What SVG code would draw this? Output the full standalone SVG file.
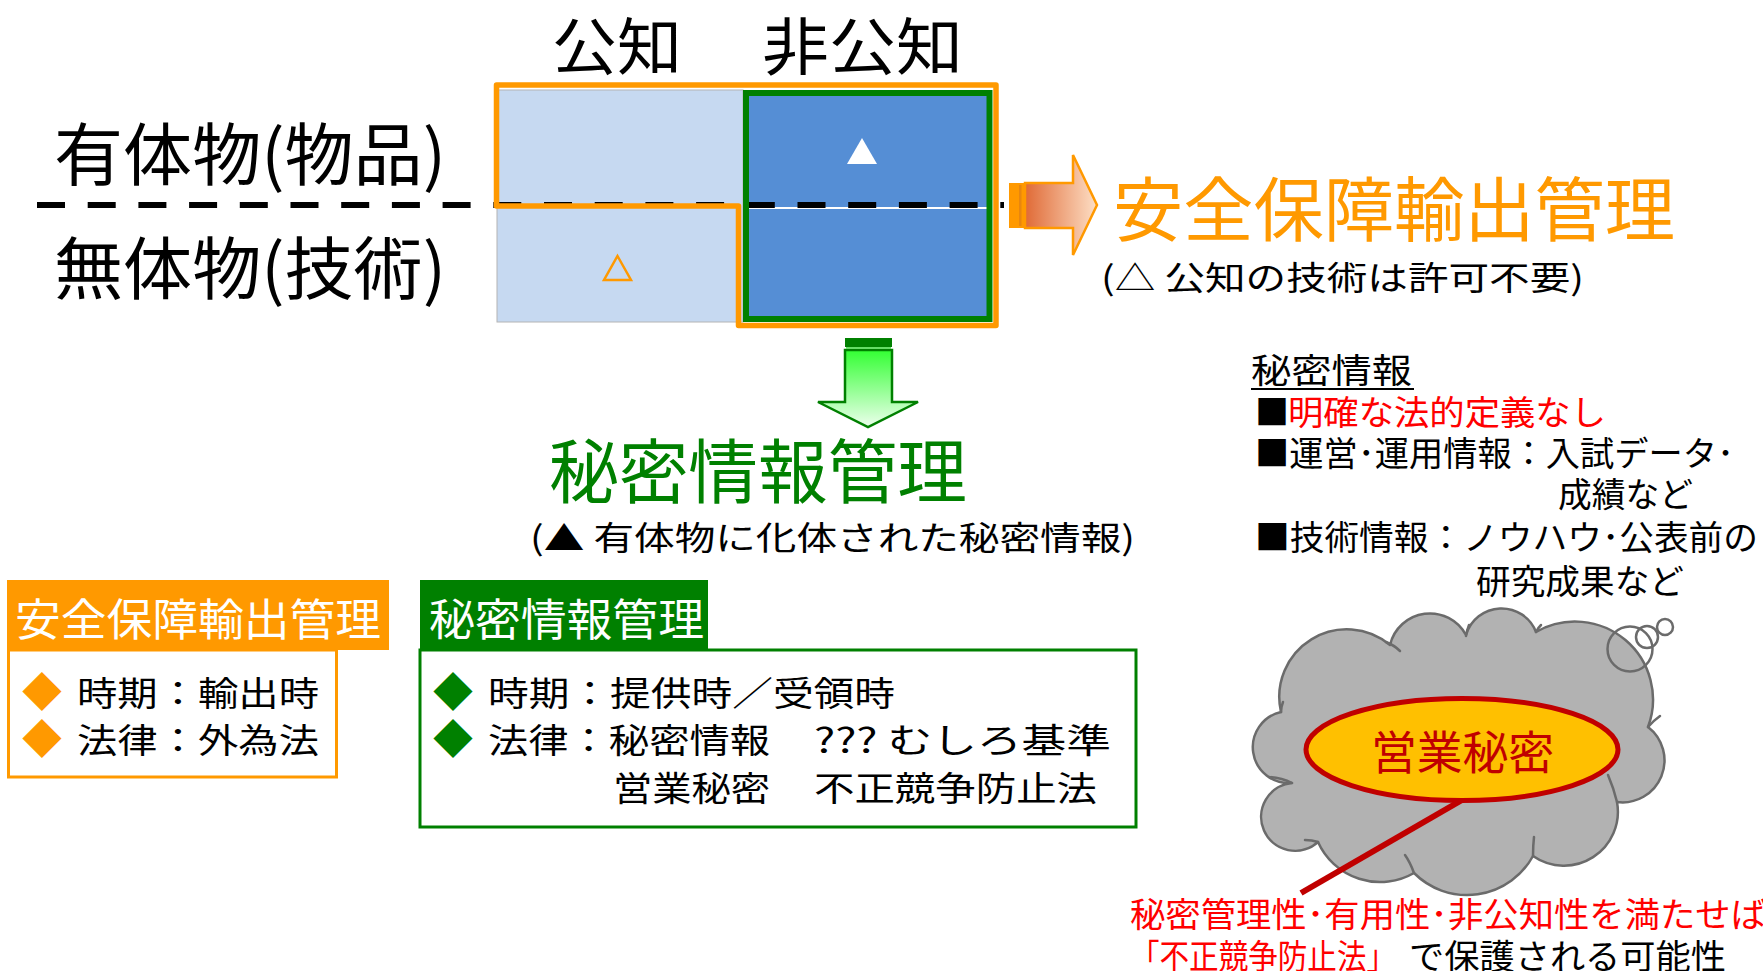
<svg xmlns="http://www.w3.org/2000/svg" width="1763" height="971" viewBox="0 0 1763 971">
  <defs>
    <linearGradient id="gradExport" gradientUnits="userSpaceOnUse" x1="1025" y1="0" x2="1095" y2="0">
      <stop offset="0" stop-color="#E06A36"/>
      <stop offset="1" stop-color="#FCDCC2"/>
    </linearGradient>
    <linearGradient id="gradSecret" gradientUnits="userSpaceOnUse" x1="0" y1="350" x2="0" y2="425">
      <stop offset="0" stop-color="#33FF33"/>
      <stop offset="1" stop-color="#E8FFE8"/>
    </linearGradient>
  </defs>
  <style>
    text { font-family: "Noto Sans CJK JP", "Noto Sans CJK SC", sans-serif; }
    .big { font-size: 70px; }
    .hdr { font-size: 62px; fill: #000; }
    .row { font-size: 68px; fill: #000; }
    .note { font-size: 33px; fill: #000; }
    .tab { font-size: 44px; fill: #fff; }
    .item { font-size: 34px; fill: #000; }
    .info { font-size: 34px; fill: #000; }
    .red { fill: #FF0000; }
    .orange { fill: #FF9900; }
    .green { fill: #008000; }
    .cloud { fill: #B2B2B2; stroke: #6B6B6B; stroke-width: 2.5; stroke-linejoin: round; }
    .hint { fill: none; stroke: #6B6B6B; stroke-width: 2.5; stroke-linecap: round; }
  </style>

  <rect width="1763" height="971" fill="#FFFFFF"/>

  <!-- column and row headings -->
  <g id="headings">
    <text class="hdr" x="552" y="70" textLength="130" lengthAdjust="spacingAndGlyphs">公知</text>
    <text class="hdr" x="762" y="70" textLength="201" lengthAdjust="spacingAndGlyphs">非公知</text>
    <text class="row" x="54" y="180" textLength="392" lengthAdjust="spacingAndGlyphs">有体物(物品)</text>
    <text class="row" x="54" y="294" textLength="392" lengthAdjust="spacingAndGlyphs">無体物(技術)</text>
  </g>

  <!-- 2x2 matrix: public / non-public vs tangible / intangible -->
  <g id="matrix">
    <rect x="497" y="90" width="246" height="232" fill="#C6D9F1" stroke="#B4B4B4" stroke-width="1"/>
    <rect x="745" y="91" width="242" height="229" fill="#558ED5"/>
    <line x1="745" y1="208" x2="987" y2="208" stroke="#FFFFFF" stroke-width="2"/>
    <line x1="37" y1="205" x2="1004" y2="205" stroke="#000" stroke-width="6" stroke-dasharray="28 22.7"/>
    <rect x="746" y="93" width="243.5" height="226" fill="none" stroke="#008000" stroke-width="6"/>
    <path d="M496.5 85 H996 V325.5 H738.5 V206 H496.5 Z" fill="none" stroke="#FF9900" stroke-width="5.5" stroke-linejoin="round"/>
    <polygon points="862,138 877,164 847,164" fill="#FFFFFF"/>
    <polygon points="617.5,256 631,280 604,280" fill="none" stroke="#FF9900" stroke-width="2.5" stroke-linejoin="miter"/>
  </g>

  <!-- destination labels -->
  <g id="export-control">
    <text class="big orange" x="1113" y="236" textLength="562" lengthAdjust="spacingAndGlyphs">安全保障輸出管理</text>
    <text class="note" x="1101" y="290" textLength="483" lengthAdjust="spacingAndGlyphs">(△ 公知の技術は許可不要)</text>
  </g>
  <g id="secret-management">
    <text class="big green" x="549" y="498" textLength="418" lengthAdjust="spacingAndGlyphs">秘密情報管理</text>
    <text class="note" x="530" y="550" textLength="605" lengthAdjust="spacingAndGlyphs">(▲ 有体物に化体された秘密情報)</text>
  </g>

  <!-- summary card: export control -->
  <g id="card-export">
    <rect x="8.5" y="650" width="328" height="127" fill="#FFFFFF" stroke="#FF9900" stroke-width="3"/>
    <rect x="7" y="580" width="382" height="70" fill="#FF9900"/>
    <text class="tab" x="15" y="636" textLength="366" lengthAdjust="spacingAndGlyphs">安全保障輸出管理</text>
    <text class="orange" x="42" y="707" font-size="40" text-anchor="middle">◆</text>
    <text class="item" x="77" y="706" textLength="242" lengthAdjust="spacingAndGlyphs">時期：輸出時</text>
    <text class="orange" x="42" y="754" font-size="40" text-anchor="middle">◆</text>
    <text class="item" x="77" y="753" textLength="242" lengthAdjust="spacingAndGlyphs">法律：外為法</text>
  </g>

  <!-- summary card: confidential information management -->
  <g id="card-secret">
    <rect x="420" y="650" width="716" height="177" fill="#FFFFFF" stroke="#008000" stroke-width="3"/>
    <rect x="420" y="580" width="288" height="70" fill="#008000"/>
    <text class="tab" x="429" y="636" textLength="275" lengthAdjust="spacingAndGlyphs">秘密情報管理</text>
    <text class="green" x="453" y="707" font-size="40" text-anchor="middle">◆</text>
    <text class="item" x="488" y="706" textLength="407" lengthAdjust="spacingAndGlyphs">時期：提供時／受領時</text>
    <text class="green" x="453" y="754" font-size="40" text-anchor="middle">◆</text>
    <text class="item" x="488" y="753" textLength="282" lengthAdjust="spacingAndGlyphs">法律：秘密情報</text>
    <text class="item" x="814" y="753" textLength="297" lengthAdjust="spacingAndGlyphs">??? むしろ基準</text>
    <text class="item" x="613" y="801" textLength="157" lengthAdjust="spacingAndGlyphs">営業秘密</text>
    <text class="item" x="814" y="801" textLength="283" lengthAdjust="spacingAndGlyphs">不正競争防止法</text>
  </g>

  <!-- definition notes -->
  <g id="secret-info-notes">
    <text class="info" x="1251" y="383" font-size="37" textLength="161" lengthAdjust="spacingAndGlyphs">秘密情報</text>
    <line x1="1251" y1="389" x2="1414" y2="389" stroke="#000" stroke-width="2"/>
    <text class="info" x="1255" y="425">■</text>
    <text class="info red" x="1288" y="425" textLength="318" lengthAdjust="spacingAndGlyphs">明確な法的定義なし</text>
    <text class="info" x="1255" y="466" textLength="479" lengthAdjust="spacingAndGlyphs">■運営･運用情報：入試データ･</text>
    <text class="info" x="1558" y="507" textLength="135" lengthAdjust="spacingAndGlyphs">成績など</text>
    <text class="info" x="1255" y="550" textLength="503" lengthAdjust="spacingAndGlyphs">■技術情報：ノウハウ･公表前の</text>
    <text class="info" x="1476" y="594" textLength="208" lengthAdjust="spacingAndGlyphs">研究成果など</text>
  </g>

  <!-- thought cloud holding the trade-secret ellipse -->
  <g id="trade-secret-cloud">
    <path class="cloud" d="M1281 712 A67.5 67.5 0 0 1 1390 645 A41 41 0 0 1 1466 635 A37 37 0 0 1 1536 632 A78 78 0 0 1 1648 727 A42 42 0 0 1 1617 802 A54 54 0 0 1 1533 856 A75 75 0 0 1 1414 873 A68 68 0 0 1 1318 842 A34 34 0 1 1 1292 783 A36 36 0 0 1 1281 712 Z"/>
    <path class="hint" d="M1386 642 Q1394 645 1400 651"/>
    <path class="hint" d="M1466 636 Q1467 630 1469 625"/>
    <path class="hint" d="M1536 632 Q1538 628 1541 625"/>
    <path class="hint" d="M1648 727 Q1653 721 1660 716"/>
    <path class="hint" d="M1617 802 Q1614 789 1608 775"/>
    <path class="hint" d="M1533 856 Q1533 846 1534 837"/>
    <path class="hint" d="M1414 873 Q1410 862 1405 855"/>
    <path class="hint" d="M1318 842 Q1312 840 1305 840"/>
    <path class="hint" d="M1292 783 Q1282 778 1269 777"/>
    <path class="hint" d="M1281 712 Q1281 707 1283 702"/>
    <circle cx="1630" cy="649" r="22.5" fill="none" stroke="#6B6B6B" stroke-width="2.5"/>
    <circle cx="1647" cy="637" r="11" fill="none" stroke="#6B6B6B" stroke-width="2.5"/>
    <circle cx="1665" cy="627" r="8" fill="none" stroke="#6B6B6B" stroke-width="2.5"/>
  </g>

  <!-- arrows and callout line -->
  <g id="connectors">
    <path d="M1025 183 H1073 V155 L1097 205 L1073 255 V228 H1025 Z" fill="url(#gradExport)" stroke="#FF9900" stroke-width="2.5" stroke-linejoin="miter"/>
    <rect x="1009" y="183" width="16" height="45" fill="#FF9900"/>
    <rect x="1019" y="185" width="2.5" height="41" fill="#E8860F"/>

    <path d="M845 350 H892 V402 H918 L868 427 L818 402 H845 Z" fill="url(#gradSecret)" stroke="#008000" stroke-width="2.5" stroke-linejoin="miter"/>
    <rect x="845" y="338" width="47" height="9" fill="#008000"/>
    <rect x="846" y="347" width="45" height="2" fill="#66DD66"/>
    <rect x="845" y="349" width="47" height="2" fill="#008000"/>

    <line x1="1462" y1="800" x2="1301" y2="893" stroke="#C00000" stroke-width="6"/>
  </g>

  <g id="trade-secret">
    <ellipse cx="1462" cy="749.5" rx="156" ry="51" fill="#FFC000" stroke="#C00000" stroke-width="5"/>
    <text x="1371" y="769" font-size="46" fill="#C00000" textLength="183" lengthAdjust="spacingAndGlyphs">営業秘密</text>
  </g>

  <!-- legal conditions -->
  <g id="protection-note">
    <text class="info red" x="1130" y="927" textLength="636" lengthAdjust="spacingAndGlyphs">秘密管理性･有用性･非公知性を満たせば</text>
    <text class="info red" x="1130" y="969" textLength="266" lengthAdjust="spacingAndGlyphs">「不正競争防止法」</text>
    <text class="info" x="1409" y="969" textLength="317" lengthAdjust="spacingAndGlyphs">で保護される可能性</text>
  </g>
</svg>
